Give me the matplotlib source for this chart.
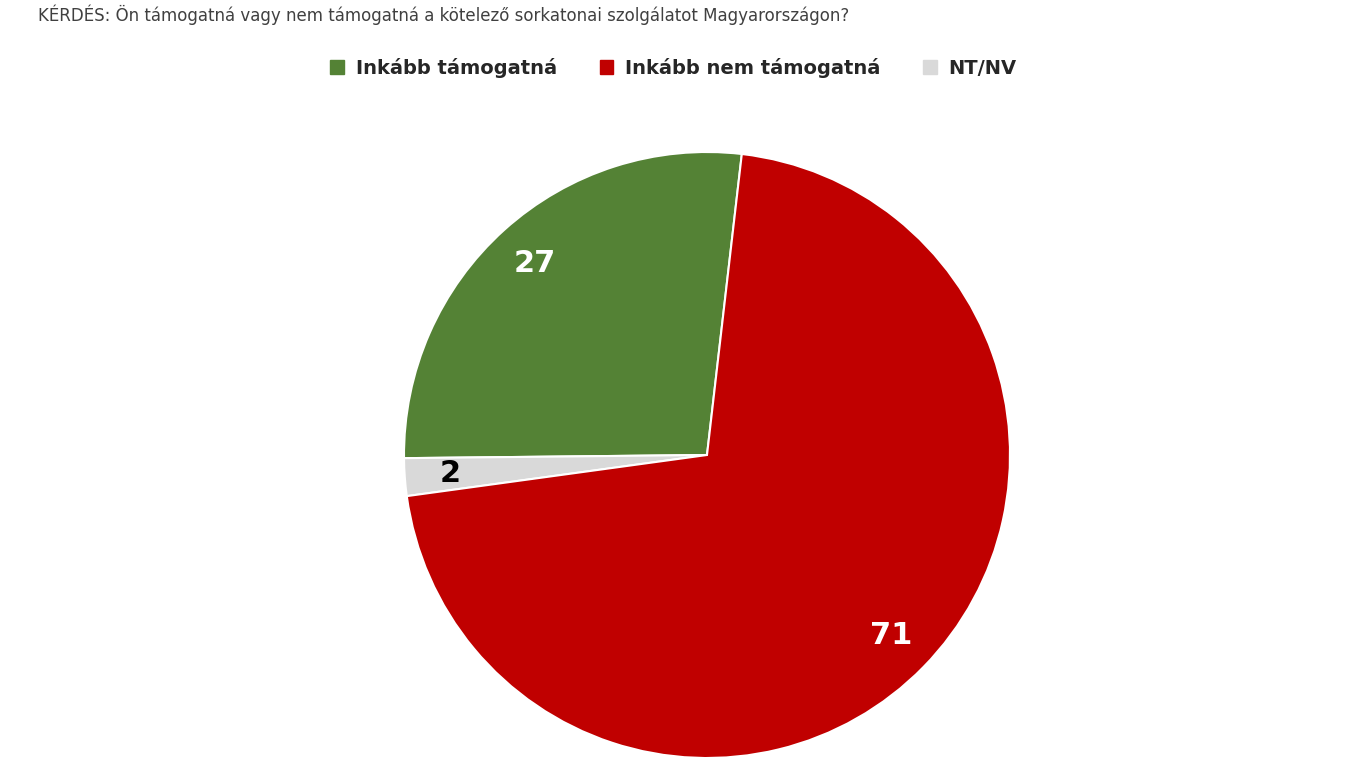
import matplotlib
matplotlib.use("Agg")
import matplotlib.pyplot as plt
from matplotlib.patches import Patch

labels = ["Inkább támogatná", "NT/NV", "Inkább nem támogatná"]
values = [27, 2, 71]
colors = ["#548235", "#D9D9D9", "#C00000"]
text_colors = ["white", "black", "white"]

fig = plt.figure(figsize=(13.47, 7.58), dpi=100)
ax = fig.add_axes([404/1347, 0, 606/1347, 606/758])
wedges, texts, autotexts = ax.pie(values, colors=colors, startangle=83.4, counterclock=True,
    autopct=lambda p: f"{round(p)}", pctdistance=0.85,
    wedgeprops=dict(edgecolor="white", linewidth=1.5))
for t, c in zip(autotexts, text_colors):
    t.set_color(c); t.set_fontsize(22); t.set_fontweight("bold")
ax.set_xlim(-1, 1); ax.set_ylim(-1, 1)
ax.set_aspect("equal")

fig.text(38/1347, 1-15/758, "KÉRDÉS: Ön támogatná vagy nem támogatná a kötelező sorkatonai szolgálatot Magyarországon?",
         fontsize=12, color="#404040", va="center", ha="left")
handles = [Patch(color=colors[0]), Patch(color=colors[2]), Patch(color=colors[1])]
leg = fig.legend(handles, [labels[0], labels[2], labels[1]], loc="center", bbox_to_anchor=(0.5, 1-68/758),
                 ncol=3, frameon=False, prop=dict(weight="bold", size=14), handlelength=0.7, handleheight=0.7,
                 columnspacing=2.2, handletextpad=0.6)
for t in leg.get_texts():
    t.set_color("#262626")
fig.savefig("out.png", dpi=100)
